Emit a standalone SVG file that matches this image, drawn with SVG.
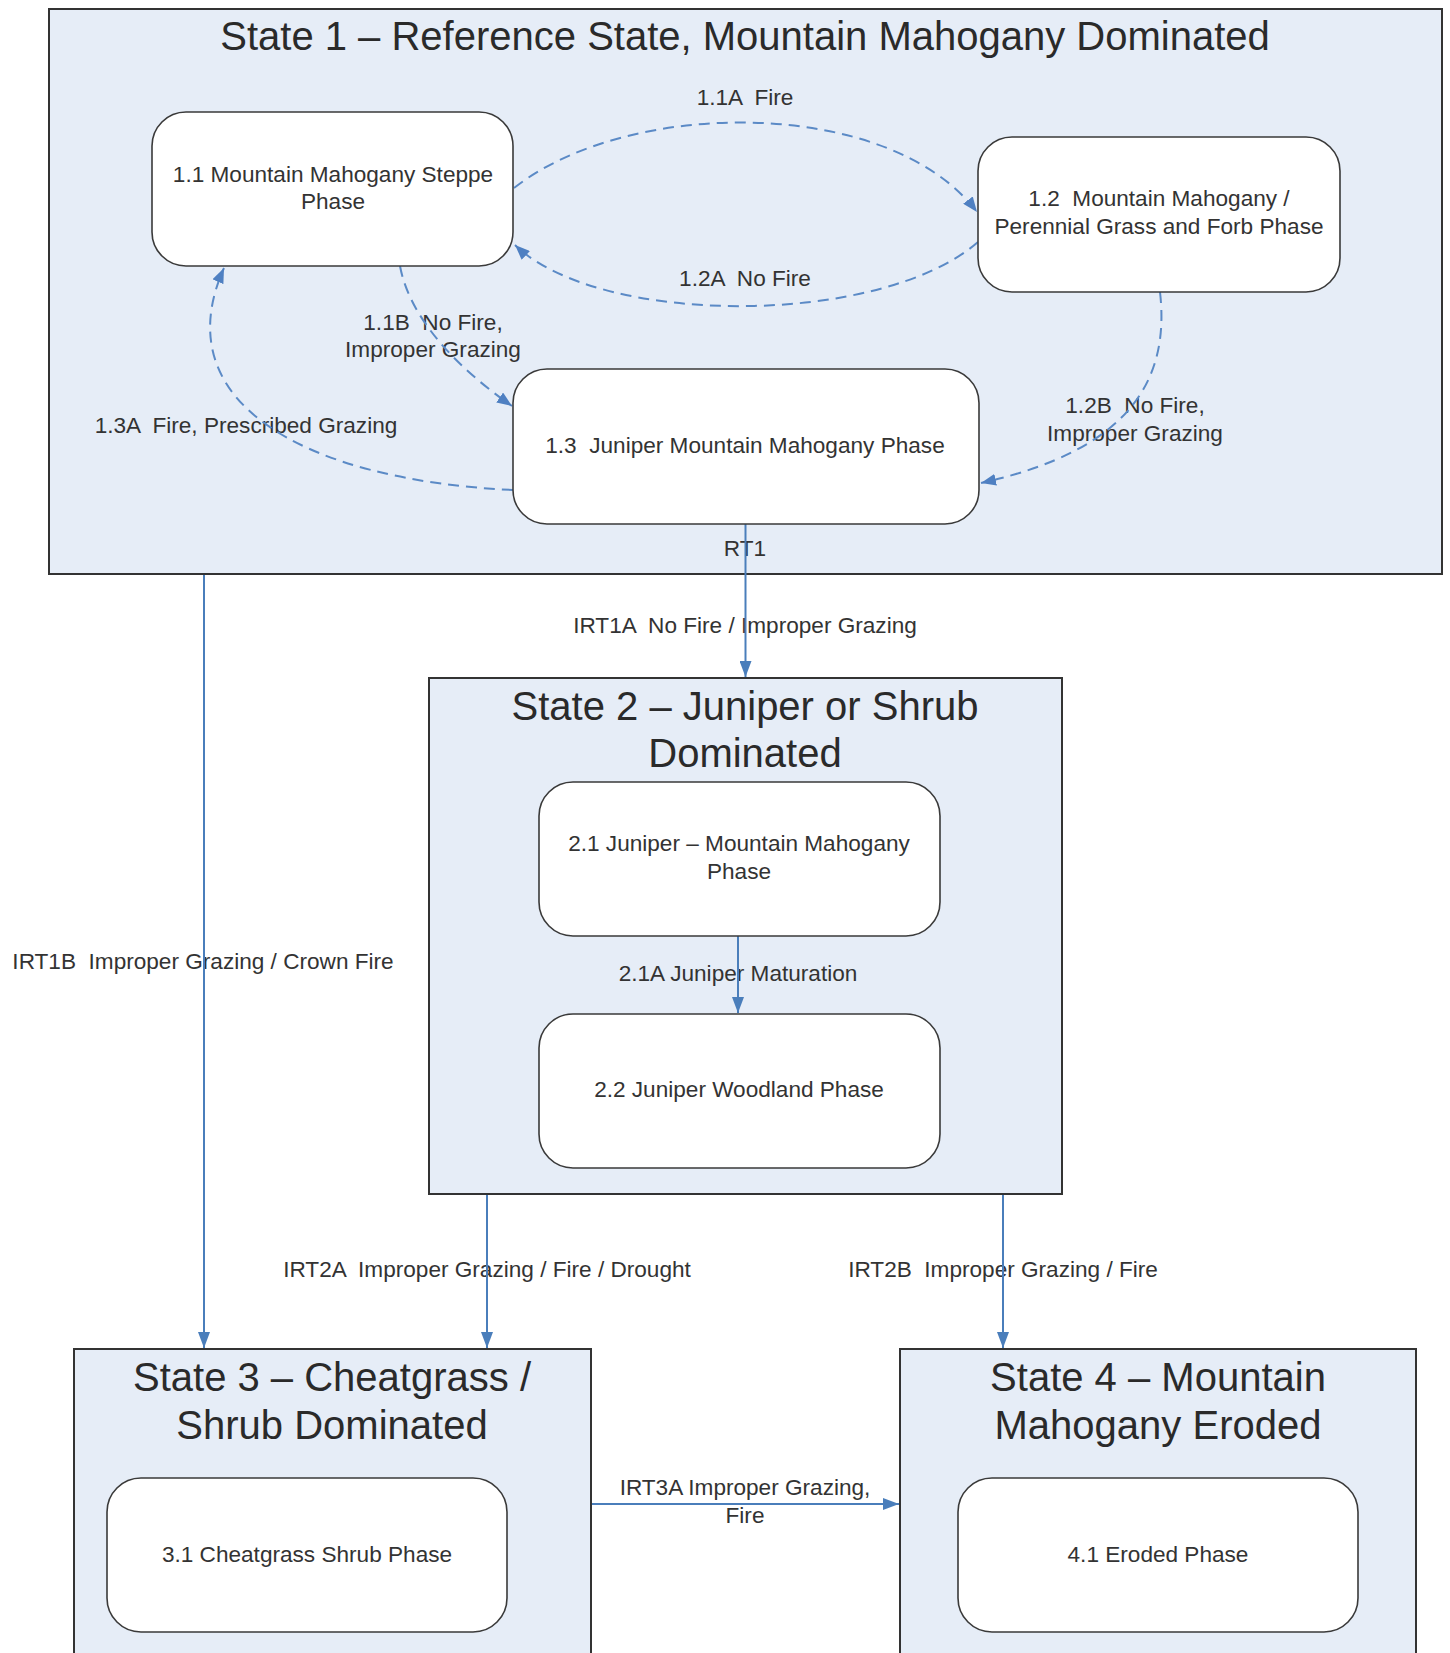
<svg xmlns="http://www.w3.org/2000/svg" width="1450" height="1653" viewBox="0 0 1450 1653">
<style>
.state{fill:#e6edf7;stroke:#333;stroke-width:2}
.phase{fill:#fff;stroke:#3a3a3a;stroke-width:1.6}
.title{font-family:"Liberation Sans",Arial,sans-serif;font-size:40px;fill:#2a2a2a;text-anchor:middle;white-space:pre}
.t{font-family:"Liberation Sans",Arial,sans-serif;font-size:22.6px;fill:#333;text-anchor:middle;white-space:pre}
.dash{fill:none;stroke:#5b8ac6;stroke-width:2;stroke-dasharray:11 7}
.solid{fill:none;stroke:#4a7ebb;stroke-width:2}
</style>
<defs>
<marker id="ah" markerUnits="userSpaceOnUse" markerWidth="16" markerHeight="12" refX="16" refY="6" orient="auto">
<path d="M0,0 L16,6 L0,12 z" fill="#4a7ebb"/>
</marker>
<marker id="ahd" markerUnits="userSpaceOnUse" markerWidth="15" markerHeight="12" refX="15" refY="6" orient="auto">
<path d="M0,0 L15,6 L0,12 z" fill="#4f80c2"/>
</marker>
</defs>
<rect width="1450" height="1653" fill="#fff"/>

<g id="state1">
<rect class="state" x="49" y="9" width="1393" height="565"/>
<text class="title" x="745" y="50">State 1 – Reference State, Mountain Mahogany Dominated</text>
</g>
<g id="state2">
<rect class="state" x="429" y="678" width="633" height="516"/>
<text class="title" x="745" y="720">State 2 – Juniper or Shrub</text>
<text class="title" x="745" y="767">Dominated</text>
</g>
<g id="state3">
<rect class="state" x="74" y="1349" width="517" height="320"/>
<text class="title" x="332" y="1391">State 3 – Cheatgrass /</text>
<text class="title" x="332" y="1439">Shrub Dominated</text>
</g>
<g id="state4">
<rect class="state" x="900" y="1349" width="516" height="320"/>
<text class="title" x="1158" y="1391">State 4 – Mountain</text>
<text class="title" x="1158" y="1439">Mahogany Eroded</text>
</g>

<g id="labels">
<text class="t" x="745" y="105">1.1A  Fire</text>
<text class="t" x="745" y="286">1.2A  No Fire</text>
<text class="t" x="433" y="330">1.1B  No Fire,</text>
<text class="t" x="433" y="357">Improper Grazing</text>
<text class="t" x="246" y="433">1.3A  Fire, Prescribed Grazing</text>
<text class="t" x="1135" y="413">1.2B  No Fire,</text>
<text class="t" x="1135" y="441">Improper Grazing</text>
<text class="t" x="745" y="556">RT1</text>
<text class="t" x="745" y="633">IRT1A  No Fire / Improper Grazing</text>
<text class="t" x="203" y="969">IRT1B  Improper Grazing / Crown Fire</text>
<text class="t" x="738" y="981">2.1A Juniper Maturation</text>
<text class="t" x="487" y="1277">IRT2A  Improper Grazing / Fire / Drought</text>
<text class="t" x="1003" y="1277">IRT2B  Improper Grazing / Fire</text>
<text class="t" x="745" y="1495">IRT3A Improper Grazing,</text>
<text class="t" x="745" y="1523">Fire</text>
</g>

<g id="connectors">
<path class="dash" d="M514,188 C630,97 890,97 977,212" marker-end="url(#ahd)"/>
<path class="dash" d="M978,242 C880,327 600,327 515,245" marker-end="url(#ahd)"/>
<path class="dash" d="M400,266 C410,320 460,370 512,406" marker-end="url(#ahd)"/>
<path class="dash" d="M513,490 C300,480 165,400 224,268" marker-end="url(#ahd)"/>
<path class="dash" d="M1160,292 C1170,380 1130,450 981,483" marker-end="url(#ahd)"/>
<path class="solid" d="M745.5,524 L745.5,677" marker-end="url(#ah)"/>
<path class="solid" d="M204,575 L204,1348" marker-end="url(#ah)"/>
<path class="solid" d="M738,936 L738,1013" marker-end="url(#ah)"/>
<path class="solid" d="M487,1195 L487,1348" marker-end="url(#ah)"/>
<path class="solid" d="M1003,1195 L1003,1348" marker-end="url(#ah)"/>
<path class="solid" d="M592,1504 L899,1504" marker-end="url(#ah)"/>
</g>

<g id="p11">
<rect class="phase" x="152" y="112" width="361" height="154" rx="34"/>
<text class="t" x="333" y="182">1.1 Mountain Mahogany Steppe</text>
<text class="t" x="333" y="209">Phase</text>
</g>
<g id="p12">
<rect class="phase" x="978" y="137" width="362" height="155" rx="34"/>
<text class="t" x="1159" y="206">1.2  Mountain Mahogany /</text>
<text class="t" x="1159" y="234">Perennial Grass and Forb Phase</text>
</g>
<g id="p13">
<rect class="phase" x="513" y="369" width="466" height="155" rx="34"/>
<text class="t" x="745" y="453">1.3  Juniper Mountain Mahogany Phase</text>
</g>
<g id="p21">
<rect class="phase" x="539" y="782" width="401" height="154" rx="34"/>
<text class="t" x="739" y="851">2.1 Juniper – Mountain Mahogany</text>
<text class="t" x="739" y="879">Phase</text>
</g>
<g id="p22">
<rect class="phase" x="539" y="1014" width="401" height="154" rx="34"/>
<text class="t" x="739" y="1097">2.2 Juniper Woodland Phase</text>
</g>
<g id="p31">
<rect class="phase" x="107" y="1478" width="400" height="154" rx="34"/>
<text class="t" x="307" y="1562">3.1 Cheatgrass Shrub Phase</text>
</g>
<g id="p41">
<rect class="phase" x="958" y="1478" width="400" height="154" rx="34"/>
<text class="t" x="1158" y="1562">4.1 Eroded Phase</text>
</g>
</svg>
